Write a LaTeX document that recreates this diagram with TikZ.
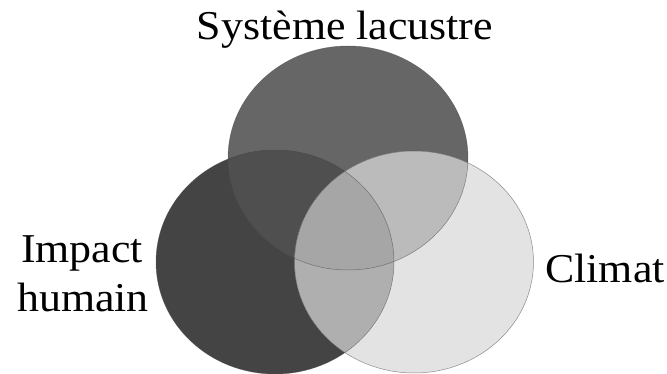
\documentclass[tikz,border=0pt]{standalone}
\usepackage{fontspec}
\setmainfont{Liberation Serif}
\definecolor{cTop}{HTML}{666666}
\definecolor{cLeft}{HTML}{444444}
\definecolor{cRight}{HTML}{E3E3E3}
\definecolor{cTL}{HTML}{4F4F4F}
\definecolor{cTR}{HTML}{BBBBBB}
\definecolor{cLR}{HTML}{AFAFAF}
\definecolor{cAll}{HTML}{A6A6A6}
\tikzset{
  lbl/.style={font=\fontsize{41}{50}\selectfont, inner sep=0pt, xscale=1.07, text=black},
  rim/.style={draw=black!70, draw opacity=0.6, line width=0.5pt}
}
\begin{document}
\begin{tikzpicture}[x=1pt,y=-1pt]
\useasboundingbox (0,0) rectangle (667,374);
\fill[white] (0,0) rectangle (667,374);
\coordinate (cT) at (348,158);
\coordinate (cL) at (275,262);
\coordinate (cR) at (414,262);
\def\pT{(cT) ellipse [x radius=120, y radius=112]}
\def\pL{(cL) ellipse [x radius=119, y radius=112]}
\def\pR{(cR) ellipse [x radius=119.5, y radius=111]}
\fill[cTop] \pT;
\fill[cLeft] \pL;
\fill[cRight] \pR;
\begin{scope}\clip \pT; \fill[cTL] \pL; \fill[cTR] \pR; \end{scope}
\begin{scope}\clip \pL; \fill[cLR] \pR; \end{scope}
\begin{scope}\clip \pT; \clip \pL; \fill[cAll] \pR; \end{scope}
\draw[rim] \pT;
\draw[rim] \pL;
\draw[rim] \pR;
\node[lbl, anchor=base] (sys) at (345,40) {Système lacustre};
\node[lbl, anchor=base] (imp) at (82,262) {Impact};
\node[lbl, anchor=base] (hum) at (83,312) {humain};
\node[lbl, anchor=base] (cli) at (605,283) {Climat};
\end{tikzpicture}
\end{document}
